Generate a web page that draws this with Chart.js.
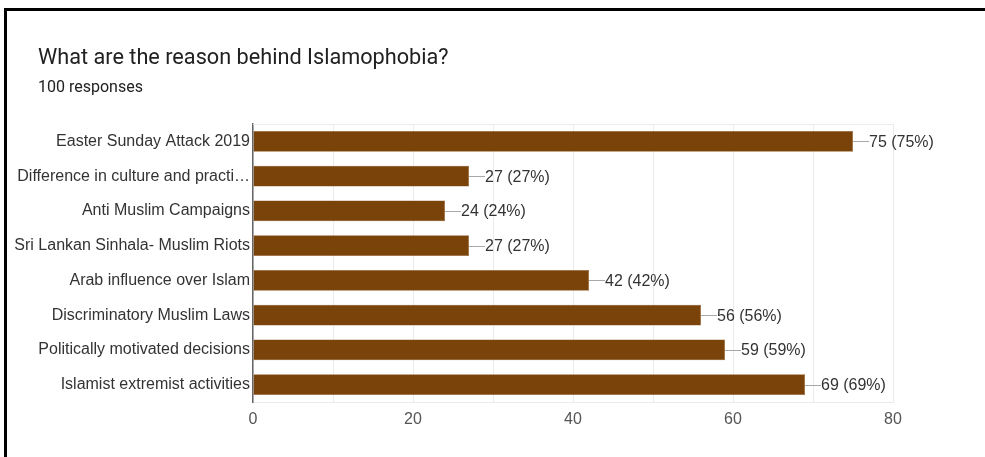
<!DOCTYPE html>
<html>
<head>
<meta charset="utf-8">
<script src="https://cdn.jsdelivr.net/npm/chart.js@4.4.1/dist/chart.umd.min.js"></script>
<style>
  html, body { margin: 0; padding: 0; background: #fff; }
  #wrap { position: relative; width: 985px; height: 457px; overflow: hidden; }
  #frame { position: absolute; left: 4px; top: 8px; right: -10px; bottom: -10px;
           border-top: 3px solid #000; border-left: 3px solid #000; pointer-events: none; }
  #title { position: absolute; left: 38px; top: 45px; font: 21.7px Roboto, sans-serif;
           color: #212121; line-height: 24px; white-space: nowrap; }
  #subtitle { position: absolute; left: 38px; top: 78px; font: 16px Roboto, sans-serif;
              color: #212121; line-height: 18px; white-space: nowrap; }
  canvas { position: absolute; left: 0; top: 0; }
</style>
</head>
<body>
<div id="wrap">
  <canvas id="chart" width="985" height="457"></canvas>
  <div id="title">What are the reason behind Islamophobia?</div>
  <div id="subtitle">100 responses</div>
  <div id="frame"></div>
</div>
<script>
const categories = [
  'Easter Sunday Attack 2019',
  'Difference in culture and practi\u2026',
  'Anti Muslim Campaigns',
  'Sri Lankan Sinhala- Muslim Riots',
  'Arab influence over Islam',
  'Discriminatory Muslim Laws',
  'Politically motivated decisions',
  'Islamist extremist activities'
];
const counts = [75, 27, 24, 27, 42, 56, 59, 69];
const totalResponses = 100;
const xTicks = [0, 20, 40, 60, 80];

const FAMILY = '"Liberation Sans", Arial, sans-serif';
const LABEL_FONT = '16px ' + FAMILY;

// Leader line + "n (p%)" label at the end of each bar, plus the plot frame top edge
const valueLabels = {
  id: 'valueLabels',
  beforeDatasetsDraw(chart) {
    const { ctx, chartArea } = chart;
    ctx.save();
    ctx.strokeStyle = '#ececec';
    ctx.lineWidth = 1;
    ctx.beginPath();
    ctx.moveTo(chartArea.left, chartArea.top + 0.5);
    ctx.lineTo(chartArea.right, chartArea.top + 0.5);
    ctx.stroke();
    ctx.restore();
  },
  afterDatasetsDraw(chart) {
    const { ctx } = chart;
    const meta = chart.getDatasetMeta(0);
    ctx.save();
    ctx.font = LABEL_FONT;
    ctx.textBaseline = 'middle';
    ctx.textAlign = 'left';
    meta.data.forEach((bar, i) => {
      const v = counts[i];
      const y = Math.round(bar.y) + 0.5;
      ctx.strokeStyle = '#a8a8a8';
      ctx.lineWidth = 1;
      ctx.beginPath();
      ctx.moveTo(bar.x, y);
      ctx.lineTo(bar.x + 16, y);
      ctx.stroke();
      ctx.fillStyle = '#333';
      const pct = Math.round(v / totalResponses * 100);
      ctx.fillText(v + ' (' + pct + '%)', bar.x + 16, bar.y + 1);
    });
    ctx.restore();
  }
};

new Chart(document.getElementById('chart'), {
  type: 'bar',
  data: {
    labels: categories,
    datasets: [{
      data: counts,
      backgroundColor: '#7a4309',
      borderColor: '#8d5a28',
      borderWidth: 0.5,
      barPercentage: 0.6,
      categoryPercentage: 1.0
    }]
  },
  options: {
    indexAxis: 'y',
    responsive: false,
    animation: false,
    layout: { padding: { left: 0, right: 92, top: 124, bottom: 0 } },
    plugins: {
      legend: { display: false },
      tooltip: { enabled: false },
      title: { display: false }
    },
    scales: {
      x: {
        min: 0,
        max: 80,
        ticks: {
          stepSize: 10,
          autoSkip: false,
          maxRotation: 0,
          padding: 8,
          color: '#555',
          font: { family: FAMILY, size: 16 },
          callback: (v) => xTicks.includes(v) ? String(v) : ''
        },
        grid: { color: '#ebebeb', drawTicks: false },
        border: { color: '#ebebeb' },
        afterFit(scale) { scale.height = 55; }
      },
      y: {
        ticks: {
          color: '#333',
          padding: 3,
          font: { family: FAMILY, size: 16 }
        },
        grid: { display: false, drawTicks: false },
        border: { color: '#666', width: 1.5 },
        afterFit(scale) { scale.width = 253; }
      }
    }
  },
  plugins: [valueLabels]
});
</script>
</body>
</html>
